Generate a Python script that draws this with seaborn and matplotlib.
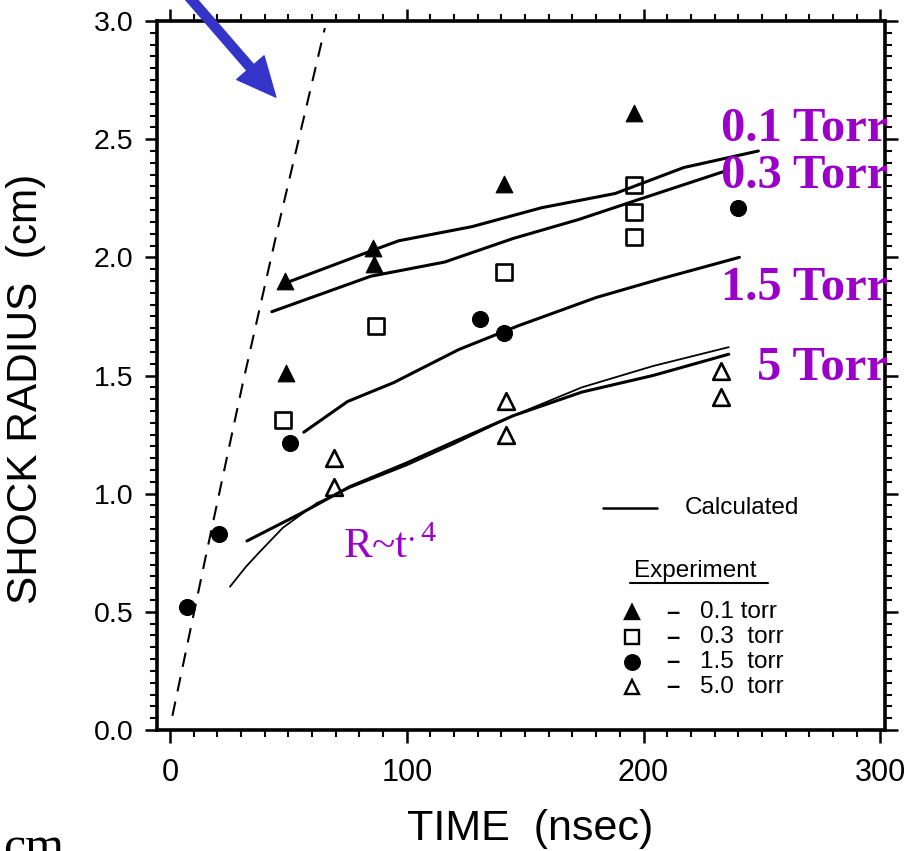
import matplotlib
matplotlib.use("Agg")
import matplotlib.pyplot as plt
from matplotlib.ticker import MultipleLocator, FormatStrFormatter
from matplotlib.lines import Line2D
import seaborn as sns

# ---- Experimental shock radius (cm) vs. time (nsec) ----
t_01 = [48.5, 49.0, 85.7, 86.0, 141.0, 196.0]
r_01 = [1.90, 1.51, 2.04, 1.97, 2.31, 2.61]

t_03 = [47.9, 86.9, 141.0, 196.0, 196.0, 196.0]
r_03 = [1.31, 1.71, 1.94, 2.305, 2.19, 2.085]

t_15 = [7.2, 20.7, 50.6, 131.0, 141.0, 239.7]
r_15 = [0.52, 0.83, 1.216, 1.737, 1.678, 2.21]

t_50 = [69.2, 69.2, 141.8, 141.8, 232.9, 232.9]
r_50 = [1.15, 1.03, 1.39, 1.25, 1.52, 1.41]

# ---- Calculated trajectories ----
calc_t_01 = [48.5, 85.7, 96.6, 127.6, 157.0, 188.0, 217.0, 248.5]
calc_r_01 = [1.89, 2.03, 2.07, 2.13, 2.21, 2.27, 2.38, 2.45]

calc_t_03 = [43.0, 84.8, 116.0, 145.0, 172.6, 199.6, 236.0]
calc_r_03 = [1.77, 1.92, 1.98, 2.08, 2.16, 2.25, 2.37]

calc_t_15 = [56.5, 75.0, 94.5, 122.0, 147.0, 180.0, 207.6, 240.5]
calc_r_15 = [1.26, 1.39, 1.47, 1.61, 1.71, 1.83, 1.91, 2.00]

calc_t_50 = [32.5, 55.0, 76.0, 100.0, 120.0, 145.0, 174.0, 204.0, 236.0]
calc_r_50 = [0.80, 0.915, 1.03, 1.13, 1.22, 1.33, 1.43, 1.50, 1.59]

# R ~ t^0.4 blast-wave curve
pow_t = [25.3, 32.0, 38.0, 47.7, 62.0, 76.0, 100.0, 120.0, 145.0, 174.0, 204.0, 236.0]
pow_r = [0.606, 0.69, 0.755, 0.856, 0.96, 1.025, 1.12, 1.21, 1.33, 1.45, 1.54, 1.62]

# Early free-expansion line (dashed)
free_t = [1.0, 15.0, 30.8, 45.0, 65.4]
free_r = [0.06, 0.73, 1.47, 2.10, 2.97]

torr_labels = ["0.1 Torr", "0.3 Torr", "1.5 Torr", "5 Torr"]
legend_labels = ["0.1 torr", "0.3  torr", "1.5  torr", "5.0  torr"]

sns.set_style("ticks", {"axes.edgecolor": "black", "xtick.color": "black",
                        "ytick.color": "black", "text.color": "black",
                        "axes.labelcolor": "black"})
plt.rcParams["font.family"] = ["Liberation Sans", "DejaVu Sans"]

PURPLE = "#9a00c8"
BLUE = "#3434c8"

fig = plt.figure(figsize=(9.16, 8.51), dpi=100)
ax = fig.add_axes([157 / 916, 1 - 730 / 851, 728 / 916, 709 / 851])

# calculated curves
for tt, rr, lw in [(calc_t_01, calc_r_01, 2.2), (calc_t_03, calc_r_03, 2.2),
                   (calc_t_15, calc_r_15, 2.2), (calc_t_50, calc_r_50, 2.2),
                   (pow_t, pow_r, 1.3)]:
    sns.lineplot(x=tt, y=rr, ax=ax, color="black", linewidth=lw,
                 estimator=None, sort=False, legend=False)

sns.lineplot(x=free_t, y=free_r, ax=ax, color="black", linewidth=1.5,
             linestyle=(0, (7, 5)), estimator=None, sort=False, legend=False)

# measured points
MS = 12
sns.scatterplot(x=t_01, y=r_01, ax=ax, marker="^", s=MS ** 2, color="black",
                edgecolor="black", linewidth=0.8, zorder=4, legend=False)
sns.scatterplot(x=t_03, y=r_03, ax=ax, marker="s", s=(MS - 1) ** 2, color="black",
                facecolor=(1, 1, 1, 0), edgecolor="black", linewidth=1.9,
                zorder=4, legend=False)
sns.scatterplot(x=t_15, y=r_15, ax=ax, marker="o", s=(MS - 0.5) ** 2, color="black",
                edgecolor="black", linewidth=0.8, zorder=4, legend=False)
sns.scatterplot(x=t_50, y=r_50, ax=ax, marker="^", s=MS ** 2, color="black",
                facecolor=(1, 1, 1, 0), edgecolor="black", linewidth=1.9,
                zorder=4, legend=False)

# axes, ticks
ax.set_xlim(-5.5, 302)
ax.set_ylim(0, 3.0)
ax.xaxis.set_major_locator(MultipleLocator(100))
ax.xaxis.set_minor_locator(MultipleLocator(10))
ax.yaxis.set_major_locator(MultipleLocator(0.5))
ax.yaxis.set_minor_locator(MultipleLocator(0.05))
ax.yaxis.set_major_formatter(FormatStrFormatter("%.1f"))
ax.tick_params(which="both", direction="out", top=True, right=True,
               labeltop=False, labelright=False)
ax.tick_params(which="major", length=9, width=1.8)
ax.tick_params(which="minor", length=5, width=1.5)
ax.tick_params(axis="x", which="major", labelsize=22, pad=11)
ax.tick_params(axis="y", which="major", labelsize=20.5, pad=8)
for sp in ax.spines.values():
    sp.set_visible(True)
    sp.set_linewidth(2.6)
    sp.set_color("black")

ax.set_xlabel("TIME  (nsec)", fontsize=31)
ax.set_ylabel("SHOCK RADIUS  (cm)", fontsize=30.5)
ax.xaxis.set_label_coords(0.512, -0.112)
ax.yaxis.set_label_coords(-0.152, 0.481)

# pressure labels
for lab, yb in zip(torr_labels, [0.831, 0.764, 0.606, 0.494]):
    ax.text(1.004, yb, lab, transform=ax.transAxes, ha="right", va="baseline",
            fontsize=35, fontweight="bold", color=PURPLE,
            family=["Liberation Serif", "DejaVu Serif"], zorder=6)

ax.text(0.2555, 0.2426, r"R~t$^{\mathregular{.4}}$", transform=ax.transAxes,
        ha="left", va="baseline", fontsize=31, color=PURPLE,
        family=["Liberation Serif", "DejaVu Serif"])

# legend block
ax.add_line(Line2D([0.613, 0.687], [0.313, 0.313], transform=ax.transAxes,
                   color="black", linewidth=1.8))
ax.text(0.725, 0.313, "Calculated", transform=ax.transAxes, ha="left",
        va="center", fontsize=17.5)
ax.text(0.655, 0.224, "Experiment", transform=ax.transAxes, ha="left",
        va="center", fontsize=17.5)
ax.add_line(Line2D([0.650, 0.839], [0.207, 0.207], transform=ax.transAxes,
                   color="black", linewidth=1.5))
leg_styles = [("^", "black"), ("s", "none"), ("o", "black"), ("^", "none")]
for (mk, fc), lab, yy in zip(leg_styles, legend_labels,
                             [0.166, 0.131, 0.096, 0.061]):
    ax.add_line(Line2D([0.652], [yy], transform=ax.transAxes, marker=mk,
                       markersize=10.5, markerfacecolor=fc,
                       markeredgecolor="black", markeredgewidth=1.7,
                       linestyle="none"))
    ax.text(0.708, yy, "\u2013", transform=ax.transAxes, ha="center",
            va="center", fontsize=17, fontweight="bold")
    ax.text(0.746, yy, lab, transform=ax.transAxes, ha="left", va="center",
            fontsize=17.5)

# annotation arrow
ax.annotate("", xy=(44.7, 2.678), xytext=(6.5, 3.12), xycoords="data",
            textcoords="data", annotation_clip=False,
            arrowprops=dict(facecolor=BLUE, edgecolor=BLUE, width=6.5,
                            headwidth=26, headlength=28, shrink=0))

fig.text(0.003, -0.012, "cm", fontsize=36, ha="left", va="baseline",
         family=["Liberation Serif", "DejaVu Serif"])

fig.savefig("out.png", dpi=100)
